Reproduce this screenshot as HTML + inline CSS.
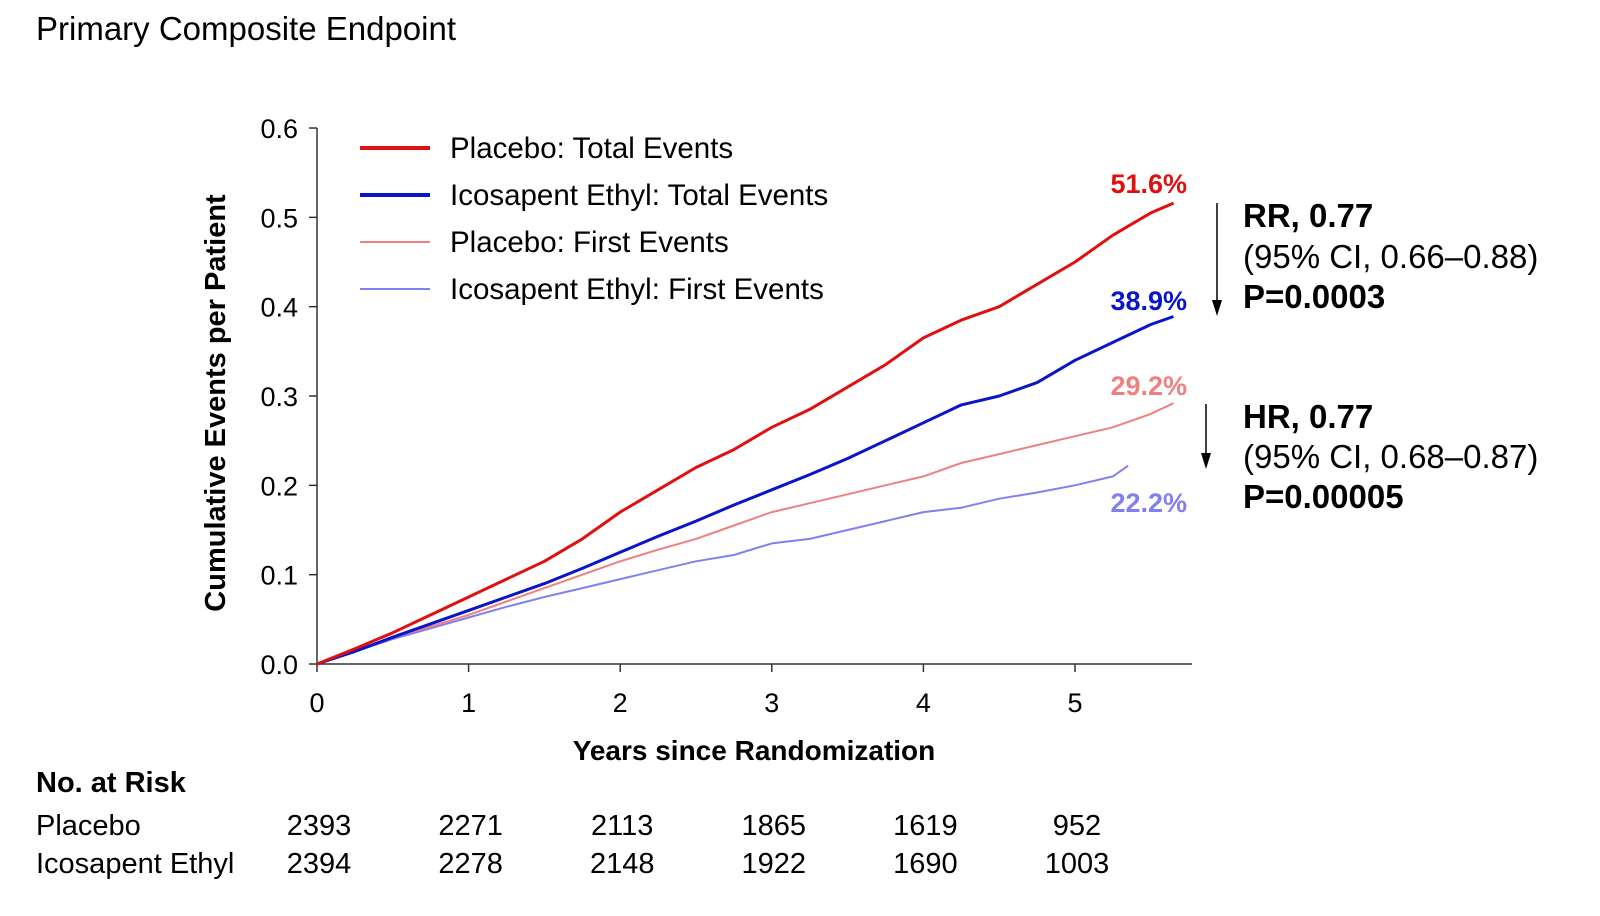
<!DOCTYPE html>
<html><head><meta charset="utf-8"><style>
body{margin:0;background:#fff;}
svg{display:block;font-family:"Liberation Sans",Arial,sans-serif;}
</style></head><body>
<svg id="chart" width="1600" height="916" viewBox="0 0 1600 916">
<text x="36" y="40" font-size="33">Primary Composite Endpoint</text>
<g id="axes"></g>
<g id="series"></g>
<g font-size="29.5">
<line x1="360" y1="148" x2="430" y2="148" stroke="#e01010" stroke-width="4"/>
<text x="450" y="158">Placebo: Total Events</text>
<line x1="360" y1="195" x2="430" y2="195" stroke="#0a14c8" stroke-width="4"/>
<text x="450" y="205">Icosapent Ethyl: Total Events</text>
<line x1="360" y1="242" x2="430" y2="242" stroke="#f08080" stroke-width="2"/>
<text x="450" y="252">Placebo: First Events</text>
<line x1="360" y1="289" x2="430" y2="289" stroke="#8080f0" stroke-width="2"/>
<text x="450" y="299">Icosapent Ethyl: First Events</text>
</g>
<g font-weight="bold" font-size="27" text-anchor="end">
<text x="1187" y="193" fill="#e01010">51.6%</text>
<text x="1187" y="310" fill="#0a14c8">38.9%</text>
<text x="1187" y="395" fill="#f08080">29.2%</text>
<text x="1187" y="512" fill="#8080f0">22.2%</text>
</g>
<g>
<line x1="1217" y1="203" x2="1217" y2="305" stroke="#000" stroke-width="1.5"/>
<polygon points="1212,300 1222,300 1217,316" fill="#000"/>
<text x="1243" y="227" font-size="33" font-weight="bold">RR, 0.77</text>
<text x="1243" y="268" font-size="33">(95% CI, 0.66–0.88)</text>
<text x="1243" y="308" font-size="33" font-weight="bold">P=0.0003</text>
</g>
<g>
<line x1="1206" y1="404" x2="1206" y2="458" stroke="#000" stroke-width="1.5"/>
<polygon points="1201,453 1211,453 1206,469" fill="#000"/>
<text x="1243" y="428" font-size="33" font-weight="bold">HR, 0.77</text>
<text x="1243" y="468" font-size="33">(95% CI, 0.68–0.87)</text>
<text x="1243" y="508" font-size="33" font-weight="bold">P=0.00005</text>
</g>
<text x="754" y="760" font-size="28" font-weight="bold" text-anchor="middle">Years since Randomization</text>
<text transform="translate(225,403) rotate(-90)" font-size="29" font-weight="bold" text-anchor="middle">Cumulative Events per Patient</text>
<g>
<text x="36" y="792" font-size="29" font-weight="bold">No. at Risk</text>
<text x="36" y="835" font-size="29">Placebo</text>
<text x="36" y="873" font-size="29">Icosapent Ethyl</text>
<g id="risk" font-size="29" text-anchor="middle"></g>
</g>
</svg>
<script>
const xTicks=[0,1,2,3,4,5];
const yTicks=[0.0,0.1,0.2,0.3,0.4,0.5,0.6];
const times=[0,0.25,0.5,0.75,1,1.25,1.5,1.75,2,2.25,2.5,2.75,3,3.25,3.5,3.75,4,4.25,4.5,4.75,5,5.25,5.5,5.65];
const placeboTotal=[0,0.017,0.035,0.055,0.075,0.095,0.115,0.14,0.17,0.195,0.22,0.24,0.265,0.285,0.31,0.335,0.365,0.385,0.40,0.425,0.45,0.48,0.505,0.516];
const icosaTotal=[0,0.014,0.03,0.045,0.06,0.075,0.09,0.107,0.125,0.143,0.16,0.178,0.195,0.212,0.23,0.25,0.27,0.29,0.30,0.315,0.34,0.36,0.38,0.389];
const placeboFirst=[0,0.014,0.03,0.042,0.055,0.07,0.085,0.1,0.115,0.128,0.14,0.155,0.17,0.18,0.19,0.2,0.21,0.225,0.235,0.245,0.255,0.265,0.28,0.292];
const timesIcosaFirst=[0,0.25,0.5,0.75,1,1.25,1.5,1.75,2,2.25,2.5,2.75,3,3.25,3.5,3.75,4,4.25,4.5,4.75,5,5.25,5.35];
const icosaFirst=[0,0.014,0.028,0.04,0.052,0.064,0.075,0.085,0.095,0.105,0.115,0.122,0.135,0.14,0.15,0.16,0.17,0.175,0.185,0.192,0.2,0.21,0.222];
const riskPlacebo=["2393","2271","2113","1865","1619","952"];
const riskIcosa=["2394","2278","2148","1922","1690","1003"];
const NS="http://www.w3.org/2000/svg";
const X=v=>317+v*151.6, Y=v=>664-v*893.3;
function mk(tag,attrs,parent){const e=document.createElementNS(NS,tag);for(const k in attrs)e.setAttribute(k,attrs[k]);parent.appendChild(e);return e;}
const ax=document.getElementById('axes');
let a=mk('line',{x1:317,y1:Y(0.6),x2:317,y2:664,stroke:'#333','stroke-width':1.5},ax);


a=mk('line',{x1:317,y1:664,x2:1192,y2:664,stroke:'#333','stroke-width':1.5},ax);


yTicks.forEach(t=>{mk('line',{x1:309,x2:317,y1:Y(t),y2:Y(t),stroke:'#333','stroke-width':1.5},ax);
const tx=mk('text',{x:298,y:Y(t)+10,'font-size':27,'text-anchor':'end'},ax);tx.textContent=t.toFixed(1);

});
xTicks.forEach(t=>{mk('line',{x1:X(t),x2:X(t),y1:664,y2:672,stroke:'#333','stroke-width':1.5},ax);
const tx=mk('text',{x:X(t),y:712,'font-size':27,'text-anchor':'middle'},ax);tx.textContent=t;

});
const sg=document.getElementById('series');
function line(ts,vals,color,w,name){let d='';ts.forEach((t,i)=>{d+=(i?'L':'M')+X(t).toFixed(1)+','+Y(vals[i]).toFixed(1);});
const p=mk('path',{d:d,fill:'none',stroke:color,'stroke-width':w,'stroke-linejoin':'round'},sg);

}
line(timesIcosaFirst,icosaFirst,'#8080f0',2,'line-icosapent-first');
line(times,placeboFirst,'#f08080',2,'line-placebo-first');
line(times,icosaTotal,'#0a14c8',3,'line-icosapent-total');
line(times,placeboTotal,'#e01010',3,'line-placebo-total');
const rg=document.getElementById('risk');
xTicks.forEach((t,i)=>{let e=mk('text',{x:X(t)+2,y:835},rg);e.textContent=riskPlacebo[i];


e=mk('text',{x:X(t)+2,y:873},rg);e.textContent=riskIcosa[i];

});
</script>
</body></html>
